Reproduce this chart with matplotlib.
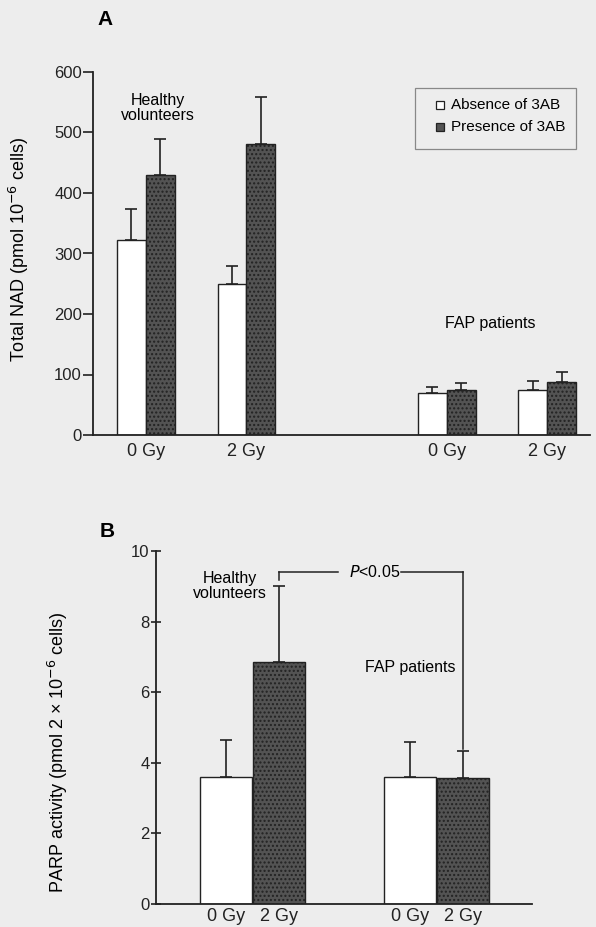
import matplotlib

matplotlib.use("Agg")
import matplotlib.pyplot as plt
from matplotlib.patches import Rectangle

plt.rcParams["font.family"] = ["Liberation Sans", "DejaVu Sans"]

# panel A: total NAD, four groups, absence / presence of 3AB
a_labels = ["0 Gy", "2 Gy", "0 Gy", "2 Gy"]
a_absent = [322, 249, 69, 74]
a_absent_err = [51, 31, 11, 15]
a_present = [429, 481, 74, 88]
a_present_err = [61, 77, 12, 16]
a_legend = ["Absence of 3AB", "Presence of 3AB"]

# panel B: PARP activity, one bar per dose
b_labels = ["0 Gy", "2 Gy", "0 Gy", "2 Gy"]
b_values = [3.6, 6.85, 3.6, 3.58]
b_err = [1.05, 2.17, 0.98, 0.76]
b_present = [False, True, False, True]

BG = "#ededed"
DARK = "#535353"
INK = "#222222"

a_pos = [1.83, 5.31, 12.24, 15.72]
b_pos = [1.34, 2.36, 4.88, 5.9]

fig = plt.figure(figsize=(5.96, 9.27), dpi=100, facecolor=BG)


def style(ax, tickdir):
    ax.set_facecolor(BG)
    for s in ("top", "right"):
        ax.spines[s].set_visible(False)
    for s in ("left", "bottom"):
        ax.spines[s].set_linewidth(1.3)
        ax.spines[s].set_color(INK)
    ax.tick_params(axis="y", direction=tickdir, length=7, width=1.2,
                   labelsize=12, pad=1, colors=INK)
    ax.tick_params(axis="x", length=0, labelsize=13, pad=6, colors=INK)


def bar(ax, x, h, err, dark, w=1.0):
    ax.bar(x, h, width=w, color=DARK if dark else "white",
           edgecolor=INK, linewidth=1.0, hatch="...." if dark else None,
           zorder=2)
    ax.errorbar(x, h, yerr=[[0], [err]], fmt="none", ecolor=INK,
                elinewidth=1.2, capsize=4, capthick=1.2, zorder=3)


# ---- panel A
axA = fig.add_axes([93 / 596, 1 - 435 / 927, 497 / 596, 363 / 927])
style(axA, "out")
for i, c in enumerate(a_pos):
    bar(axA, [c - 0.5], [a_absent[i]], a_absent_err[i], False)
    bar(axA, [c + 0.5], [a_present[i]], a_present_err[i], True)
axA.set_xlim(0, 17.2)
axA.set_ylim(0, 600)
axA.set_yticks([0, 100, 200, 300, 400, 500, 600])
axA.set_xticks(a_pos)
axA.set_xticklabels(a_labels)
axA.set_ylabel("Total NAD (pmol 10$^{-6}$ cells)", fontsize=13)
axA.yaxis.set_label_coords(-0.125, 0.51)
axA.text(2.25, 540, "Healthy\nvolunteers", ha="center", va="center",
         fontsize=11.5, linespacing=1.0)
axA.text(13.75, 185, "FAP patients", ha="center", va="center", fontsize=11.5)
axA.text(0.024, 1.146, "A", transform=axA.transAxes, fontsize=15,
         fontweight="bold", ha="center", va="center")

# legend box drawn by hand to match the small square keys
axA.add_patch(Rectangle((0.648, 0.788), 0.324, 0.168, transform=axA.transAxes,
                        facecolor=BG, edgecolor="#888", lw=0.9,
                        clip_on=False, zorder=4))
for k, (lab, yk) in enumerate(zip(a_legend, [0.909, 0.848])):
    axA.plot([0.698], [yk], marker="s", ms=6, mfc=DARK if k else "white",
             mec=INK, mew=0.9, transform=axA.transAxes, clip_on=False,
             zorder=5)
    axA.text(0.72, yk, lab, transform=axA.transAxes, fontsize=11,
             ha="left", va="center", zorder=5)

# ---- panel B
axB = fig.add_axes([156 / 596, 1 - 904 / 927, 376 / 596, 353 / 927])
style(axB, "inout")
axB.tick_params(axis="x", pad=3)
for i, x in enumerate(b_pos):
    bar(axB, [x], [b_values[i]], b_err[i], b_present[i])
axB.set_xlim(0, 7.23)
axB.set_ylim(0, 10)
axB.set_yticks([0, 2, 4, 6, 8, 10])
axB.set_xticks(b_pos)
axB.set_xticklabels(b_labels)
axB.set_ylabel("PARP activity (pmol 2 × 10$^{-6}$ cells)", fontsize=13)
axB.yaxis.set_label_coords(-0.229, 0.43)
axB.text(1.42, 9.0, "Healthy\nvolunteers", ha="center", va="center",
         fontsize=11.5, linespacing=1.0)
axB.text(4.88, 6.7, "FAP patients", ha="center", va="center", fontsize=11.5)
axB.text(-0.13, 1.056, "B", transform=axB.transAxes, fontsize=15,
         fontweight="bold", ha="center", va="center")

# significance bracket between the two 2 Gy bars
yb = 9.4
xl, xr = b_pos[1], b_pos[3]
kw = dict(color=INK, lw=1.1)
axB.plot([xl, xl], [b_values[1] + b_err[1] + 0.15, yb], **kw)
axB.plot([xl, 3.5], [yb, yb], **kw)
axB.plot([4.72, xr], [yb, yb], **kw)
axB.plot([xr, xr], [yb, b_values[3] + b_err[3] + 0.05], **kw)
axB.text(4.2, yb, "$P$<0.05", ha="center", va="center", fontsize=11.5)

fig.savefig("out.png", dpi=100, facecolor=BG)
